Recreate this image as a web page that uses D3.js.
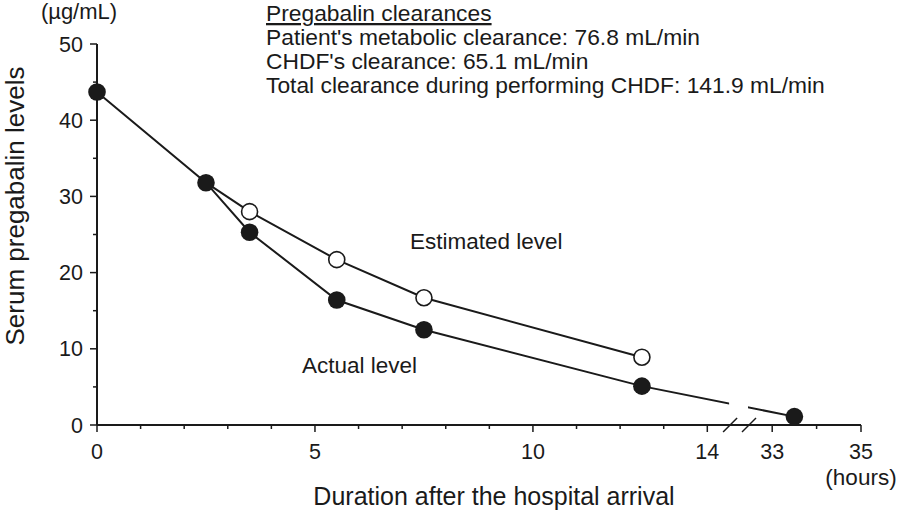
<!DOCTYPE html>
<html><head><meta charset="utf-8">
<script src="https://cdn.jsdelivr.net/npm/d3@7"></script>
<style>body{margin:0;background:#fff}svg{display:block}text{font-family:"Liberation Sans",Arial,sans-serif;fill:#1a1a1a}</style>
</head><body>
<script>
const hours = [0, 2.5, 3.5, 5.5, 7.5, 12.5, 33.5];
const actual = [43.7, 31.8, 25.3, 16.4, 12.5, 5.1, 1.1];
const estHours = [2.5, 3.5, 5.5, 7.5, 12.5];
const estimated = [31.8, 28.0, 21.7, 16.7, 8.9];
const yTicks = [0, 10, 20, 30, 40, 50];
const yMinor = [5, 15, 25, 35, 45];
const xMajor = [0, 5, 10, 14, 33, 35];
const xMinor = [1, 2, 3, 4, 6, 7, 8, 9, 11, 12, 13, 34];
const annLines = ["Patient's metabolic clearance: 76.8 mL/min", "CHDF's clearance: 65.1 mL/min", "Total clearance during performing CHDF: 141.9 mL/min"];

const W = 898, H = 511, ink = "#1a1a1a";
const svg = d3.select("body").append("svg").attr("width", W).attr("height", H);

const x = d3.scaleLinear().domain([0, 14.75, 32.5, 35]).range([97, 740, 750, 861]);
const y = d3.scaleLinear().domain([0, 50]).range([425, 44]);

// axes
const yAxis = svg.append("g");
yAxis.append("line").attr("x1", x(0)).attr("x2", x(0)).attr("y1", y(0)).attr("y2", y(50)).attr("stroke", ink).attr("stroke-width", 2);
yAxis.selectAll(".yt").data(yTicks).join("line").attr("x1", x(0) - 7).attr("x2", x(0)).attr("y1", d => y(d)).attr("y2", d => y(d)).attr("stroke", ink).attr("stroke-width", 1.5);
yAxis.selectAll(".ym").data(yMinor).join("line").attr("x1", x(0) - 4).attr("x2", x(0)).attr("y1", d => y(d)).attr("y2", d => y(d)).attr("stroke", ink).attr("stroke-width", 1.5);
yAxis.selectAll("text").data(yTicks).join("text").attr("x", x(0) - 14).attr("y", d => y(d) + 7.5).attr("text-anchor", "end").attr("font-size", 21.5).text(d => d);

const xAxis = svg.append("g");
xAxis.append("line").attr("x1", x(0)).attr("x2", x(35)).attr("y1", y(0)).attr("y2", y(0)).attr("stroke", ink).attr("stroke-width", 2);
xAxis.selectAll(".xt").data(xMajor).join("line").attr("x1", d => x(d)).attr("x2", d => x(d)).attr("y1", y(0)).attr("y2", y(0) + 7).attr("stroke", ink).attr("stroke-width", 1.5);
xAxis.selectAll(".xm").data(xMinor).join("line").attr("x1", d => x(d)).attr("x2", d => x(d)).attr("y1", y(0)).attr("y2", y(0) + 4).attr("stroke", ink).attr("stroke-width", 1.5);
xAxis.selectAll("text").data(xMajor).join("text").attr("x", d => x(d)).attr("y", 459).attr("text-anchor", "middle").attr("font-size", 21.5).text(d => d);

// break marks
[x(14.5) + 1, x(32.5) - 1].forEach(cx => {
  svg.append("line").attr("x1", cx - 7).attr("x2", cx + 7).attr("y1", y(0) + 7).attr("y2", y(0) - 7).attr("stroke", ink).attr("stroke-width", 1.5);
});

// clip to create gap in data line
const defs = svg.append("defs");
const cp = defs.append("clipPath").attr("id", "gap");
cp.append("rect").attr("x", 0).attr("y", 0).attr("width", x(14.5)).attr("height", H);
cp.append("rect").attr("x", x(32.45) - 2).attr("y", 0).attr("width", W).attr("height", H);

const line = d3.line().x(d => x(d[0])).y(d => y(d[1]));
const actPts = hours.map((h, i) => [h, actual[i]]);
const estPts = estHours.map((h, i) => [h, estimated[i]]);

svg.append("path").datum(estPts).attr("d", line).attr("fill", "none").attr("stroke", ink).attr("stroke-width", 2);
svg.append("path").datum(actPts).attr("d", line).attr("fill", "none").attr("stroke", ink).attr("stroke-width", 2).attr("clip-path", "url(#gap)");

svg.selectAll(".est").data(estPts.slice(1)).join("circle").attr("cx", d => x(d[0])).attr("cy", d => y(d[1])).attr("r", 8).attr("fill", "#fff").attr("stroke", ink).attr("stroke-width", 1.6);
svg.selectAll(".act").data(actPts).join("circle").attr("cx", d => x(d[0])).attr("cy", d => y(d[1])).attr("r", 8.8).attr("fill", ink);

// labels
svg.append("text").attr("x", 79).attr("y", 19).attr("text-anchor", "middle").attr("font-size", 22).text("(\u00b5g/mL)");
svg.append("text").attr("x", 861).attr("y", 485).attr("text-anchor", "middle").attr("font-size", 22.5).text("(hours)");
svg.append("text").attr("x", 494).attr("y", 505).attr("text-anchor", "middle").attr("font-size", 25).text("Duration after the hospital arrival");
svg.append("text").attr("transform", "translate(24,206) rotate(-90)").attr("text-anchor", "middle").attr("font-size", 26).text("Serum pregabalin levels");
svg.append("text").attr("x", 410).attr("y", 249).attr("font-size", 22.5).text("Estimated level");
svg.append("text").attr("x", 302).attr("y", 373).attr("font-size", 22.5).text("Actual level");

svg.append("text").attr("x", 266).attr("y", 21).attr("font-size", 22.8).attr("text-decoration", "underline").text("Pregabalin clearances");
svg.selectAll(".ann").data(annLines).join("text").attr("x", 266).attr("y", (d, i) => 44.5 + i * 24).attr("font-size", 22.8).text(d => d);
</script>
</body></html>
